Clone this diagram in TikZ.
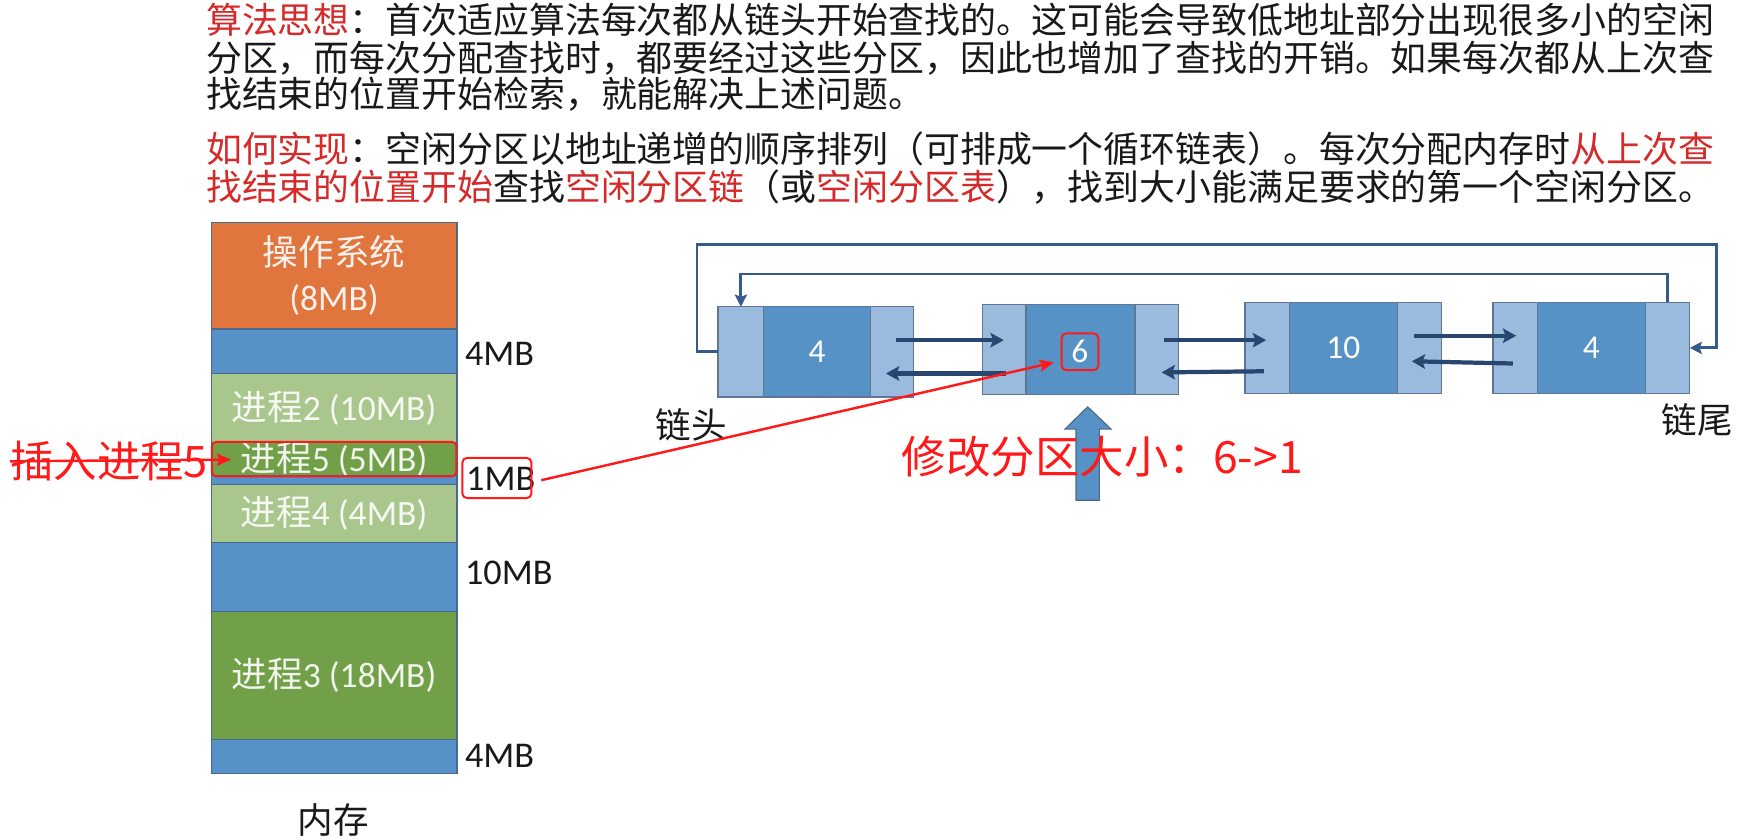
\documentclass[tikz,border=0pt]{standalone}
\usepackage{fontspec}
\setmainfont{Noto Sans CJK SC}
\newfontfamily\lat{Carlito}
\usetikzlibrary{arrows.meta,calc}

\definecolor{memOrange}{RGB}{224,118,62}
\definecolor{memBlue}{RGB}{86,146,200}
\definecolor{memLight}{RGB}{169,199,140}
\definecolor{memDark}{RGB}{114,160,73}
\definecolor{memBorder}{RGB}{75,105,140}
\definecolor{cellLight}{RGB}{154,187,221}
\definecolor{cellDark}{RGB}{87,146,199}
\definecolor{cellBorder}{RGB}{95,118,150}
\definecolor{navy}{RGB}{40,70,112}
\definecolor{loopBlue}{RGB}{55,90,140}
\definecolor{annRed}{RGB}{255,25,25}
\definecolor{txtRed}{RGB}{214,42,42}
\definecolor{txtBlack}{RGB}{25,25,25}

\newcommand{\hl}[1]{\textcolor{txtRed}{#1}}

\begin{document}
\begin{tikzpicture}[x=0.5pt,y=-0.5pt,
  para/.style={anchor=west, inner sep=0pt, text=txtBlack,
    font=\fontsize{16.15pt}{18pt}\selectfont},
  memblk/.style={draw=memBorder, line width=0.6pt, anchor=north west,
    minimum width=110.5pt, inner sep=0pt, outer sep=0pt,
    text=white, text opacity=0.9, align=center,
    font=\fontsize{16pt}{20pt}\selectfont},
  sizelbl/.style={anchor=west, inner sep=0pt, text=txtBlack,
    font=\lat\fontsize{16.3pt}{18pt}\selectfont},
  redbox/.style={draw=annRed, line width=0.9pt, rounded corners=2pt,
    inner sep=0pt},
  cell/.style={draw=cellBorder, line width=0.6pt, anchor=north west,
    inner sep=0pt, outer sep=0pt, text=white,
    font=\lat\fontsize{15pt}{18pt}\selectfont},
  lcell/.style={cell, fill=cellLight},
  dcell/.style={cell, fill=cellDark},
  link/.style={draw=navy, line width=1.9pt,
    -{Stealth[length=6pt,width=6.5pt,inset=1.2pt]}},
  loopline/.style={draw=loopBlue, line width=1.3pt,
    -{Stealth[length=5.5pt,width=5.5pt,inset=1pt]}},
  redarrow/.style={draw=annRed, line width=1.1pt,
    -{Stealth[length=6.5pt,width=5.5pt,inset=1.2pt]}},
  anntxt/.style={inner sep=0pt, text=annRed},
  endlbl/.style={inner sep=0pt, text=txtBlack,
    font=\fontsize{16pt}{18pt}\selectfont}
]
\useasboundingbox (0,0) rectangle (1568,755);
\fill[white] (0,0) rectangle (1568,755);

% ---- explanatory paragraph ----
\node[para] (t1) at (185,18) {\hl{算法思想}：首次适应算法每次都从链头开始查找的。这可能会导致低地址部分出现很多小的空闲};
\node[para] (t2) at (185,52) {分区，而每次分配查找时，都要经过这些分区，因此也增加了查找的开销。如果每次都从上次查};
\node[para] (t3) at (185,85) {找结束的位置开始检索，就能解决上述问题。};
\node[para] (t4) at (185,134) {\hl{如何实现}：空闲分区以地址递增的顺序排列（可排成一个循环链表）。每次分配内存时\hl{从上次查}};
\node[para] (t5) at (185,168) {\hl{找结束的位置开始}查找\hl{空闲分区链}（或\hl{空闲分区表}），找到大小能满足要求的第一个空闲分区。};

% ---- memory column ----
\node[memblk, fill=memOrange, minimum height=48pt] (os) at (190,200) {操作系统\\{\lat (8MB)}};
\node[memblk, fill=memBlue,   minimum height=20pt] (f1) at (190,296) {};
\node[memblk, fill=memLight,  minimum height=31pt] (p2) at (190,336) {进程{\lat 2 (10MB)}};
\node[memblk, fill=memDark,   minimum height=15pt] (p5) at (190,398) {进程{\lat 5 (5MB)}};
\node[memblk, fill=memBlue,   minimum height=4pt]  (f2) at (190,428) {};
\node[memblk, fill=memLight,  minimum height=26pt] (p4) at (190,436) {进程{\lat 4 (4MB)}};
\node[memblk, fill=memBlue,   minimum height=31pt] (f3) at (190,488) {};
\node[memblk, fill=memDark,   minimum height=57.5pt] (p3) at (190,550) {进程{\lat 3 (18MB)}};
\node[memblk, fill=memBlue,   minimum height=15.5pt] (f4) at (190,665) {};

\node[sizelbl] (s1) at (418,318) {4MB};
\node[sizelbl] (s2) at (419,431) {1MB};
\node[sizelbl] (s3) at (418,515) {10MB};
\node[sizelbl] (s4) at (418,680) {4MB};
\node[endlbl] (mem) at (300,738) {内存};

\node[redbox, minimum width=110pt, minimum height=15.5pt] (p5box) at (300.5,413) {};
\node[redbox, minimum width=31pt, minimum height=18pt] (s2box) at (447,430) {};

% ---- free-partition chain ----
\node[lcell, minimum width=20.5pt, minimum height=40.5pt] (n1L) at (646,276) {};
\node[dcell, minimum width=48pt,   minimum height=40.5pt] (n1D) at (687,276) {4};
\node[lcell, minimum width=19.5pt, minimum height=40.5pt] (n1R) at (783,276) {};

\node[lcell, minimum width=19.5pt, minimum height=40.5pt] (n2L) at (884,274) {};
\node[dcell, minimum width=49pt,   minimum height=40.5pt] (n2D) at (923,274) {};
\node[lcell, minimum width=19.5pt, minimum height=40.5pt] (n2R) at (1021,274) {};

\node[lcell, minimum width=20pt,   minimum height=41pt] (n3L) at (1120,272) {};
\node[dcell, minimum width=48.5pt, minimum height=41pt] (n3D) at (1160,272) {10};
\node[lcell, minimum width=20pt,   minimum height=41pt] (n3R) at (1257,272) {};

\node[lcell, minimum width=20pt,   minimum height=41pt] (n4L) at (1343,272) {};
\node[dcell, minimum width=48.5pt, minimum height=41pt] (n4D) at (1383,272) {4};
\node[lcell, minimum width=20pt,   minimum height=41pt] (n4R) at (1480,272) {};

\node[redbox, minimum width=16.5pt, minimum height=16.5pt, text=white,
      font=\lat\fontsize{15pt}{18pt}\selectfont] (six) at (971.5,316.5) {6};

% forward / backward links
\draw[link] ($(n1R.center)+(3.5,-10.5)$) -- ($(n2L.center)+(-0.5,-8.5)$);
\draw[link] ($(n2L.center)+(1.5,21.5)$) -- ($(n1R.center)+(-5.5,19.5)$);
\draw[link] ($(n2R.center)+(6.5,-8.5)$) -- ($(n3L.center)+(-1,-7)$);
\draw[link] ($(n3L.center)+(-3,21)$) -- ($(n2R.center)+(4.5,20.5)$);
\draw[link] ($(n3R.center)+(-5,-11)$) -- ($(n4L.center)+(1,-11)$);
\draw[link] ($(n4L.center)+(-2,14)$) -- ($(n3R.center)+(-7,12)$);

% circular links
\draw[loopline] (n1L.west) -- ++(-19,0) |- (1544,220) |- (n4R.east);
\draw[loopline] (n4R.north) -- ++(0,-25.5) -| (n1L.north);

\node[endlbl] (head) at (622,382) {链头};
\node[endlbl] (tail) at (1527,378) {链尾};

% block arrow pointing at the modified partition
\filldraw[fill=cellDark, draw=memBorder, line width=0.5pt]
  (968,450) -- (968,386) -- (958,386) -- (978.5,366) -- (999.5,386)
  -- (989,386) -- (989,450) -- cycle;

\node[anntxt, anchor=west, font=\fontsize{20pt}{22pt}\selectfont] (mod) at (811,411) {修改分区大小：6->1};

% annotations
\node[anntxt, anchor=west, font=\fontsize{19.5pt}{22pt}\selectfont] (ins) at (9,415) {插入进程5};
\draw[redarrow] (ins.west) -- ([xshift=9pt]p5.west);
\draw[redarrow] ([xshift=4pt,yshift=-1pt]s2box.east) -- ([xshift=-3pt,yshift=-4.75pt]six.west);

\end{tikzpicture}
\end{document}
